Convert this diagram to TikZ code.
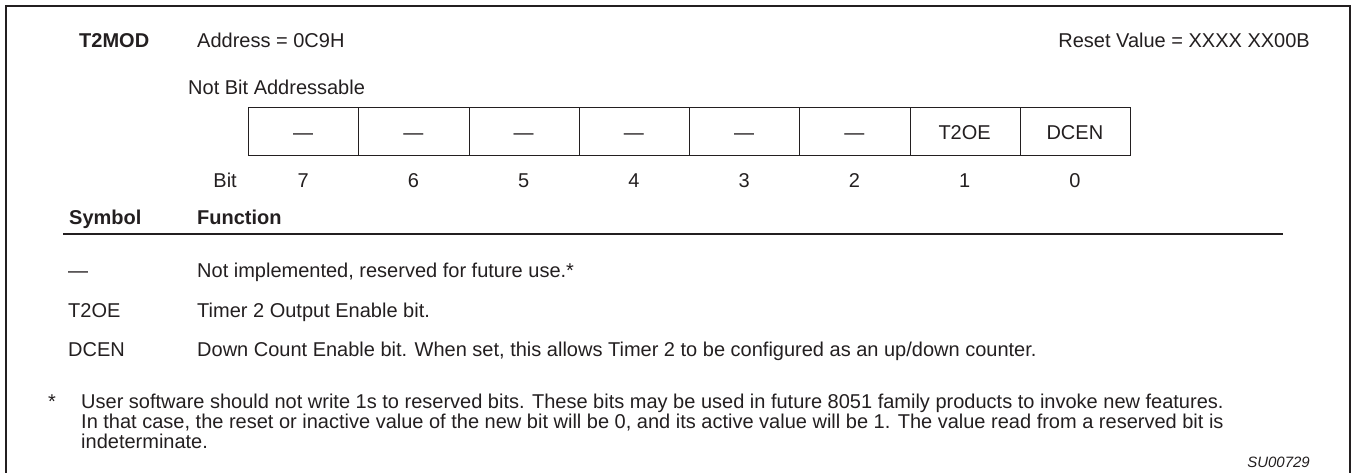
\documentclass[tikz,border=0pt]{standalone}
\usepackage{fontspec}
\setmainfont{Liberation Sans}
\definecolor{ink}{HTML}{231F20}
\begin{document}
\begin{tikzpicture}[x=1pt,y=-1pt,
  txt/.style={inner sep=0pt, text=ink, font=\fontsize{20}{20}\selectfont},
  bold/.style={txt, font=\fontsize{20}{20}\selectfont\bfseries},
  cell/.style={draw=ink, line width=1pt, inner sep=0pt, minimum width=110.25pt, minimum height=48pt},
  frame/.style={draw=ink, line width=2pt},
  rule/.style={draw=ink, line width=2.5pt}]
\useasboundingbox (0,0) rectangle (1358,473);
% frame
\coordinate (fbl) at (6,473);
\coordinate (ftl) at (6,6);
\coordinate (ftr) at (1350,6);
\coordinate (fbr) at (1350,473);
\draw[frame] (fbl) -- (ftl) -- (ftr) -- (fbr);
% header
\node[bold, anchor=base west] (t2mod) at (79,48) {T2MOD};
\node[txt, anchor=base west] (addr) at (197,48) {Address = 0C9H};
\node[txt, anchor=base east] (reset) at (1310,48) {Reset Value = XXXX XX00B};
\node[txt, anchor=base west] (nba) at (188,95) {Not Bit Addressable};
% register cells
\foreach \k/\lab/\b in {0/—/7,1/—/6,2/—/5,3/—/4,4/—/3,5/—/2,6/T2OE/1,7/DCEN/0} {
  \node[cell, anchor=north west] (c\b) at ({248+110.25*\k},107) {};
  \node[txt, anchor=base] (l\b) at ({248+110.25*\k+55.125},140) {\lab};
  \node[txt, anchor=base] (n\b) at ({248+110.25*\k+55.125},188) {\b};
}
\node[txt, anchor=base east] (bit) at (237,188) {Bit};
% table heading
\node[bold, anchor=base west] (sym) at (69,225) {Symbol};
\node[bold, anchor=base west] (fun) at (197,225) {Function};
\coordinate (rl) at (63,234);
\coordinate (rr) at (1283,234);
\draw[rule] (rl) -- (rr);
% rows
\node[txt, anchor=base west] (s1) at (68,278) {—};
\node[txt, anchor=base west] (f1) at (197,278) {Not implemented, reserved for future use.*};
\node[txt, anchor=base west] (s2) at (68,317) {T2OE};
\node[txt, anchor=base west] (f2) at (197,317) {Timer 2 Output Enable bit.};
\node[txt, anchor=base west] (s3) at (68,356) {DCEN};
\node[txt, anchor=base west] (f3) at (197,356) {Down Count Enable bit. When set, this allows Timer 2 to be configured as an up/down counter.};
% footnote
\node[txt, anchor=base west] (ast) at (48,408) {*};
\node[txt, anchor=base west] (n1) at (81,408) {User software should not write 1s to reserved bits. These bits may be used in future 8051 family products to invoke new features.};
\node[txt, anchor=base west] (n2) at (81,428) {In that case, the reset or inactive value of the new bit will be 0, and its active value will be 1. The value read from a reserved bit is};
\node[txt, anchor=base west] (n3) at (81,448) {indeterminate.};
\node[txt, anchor=base east, font=\fontsize{15}{15}\selectfont\itshape] (su) at (1310,467) {SU00729};
\end{tikzpicture}
\end{document}
